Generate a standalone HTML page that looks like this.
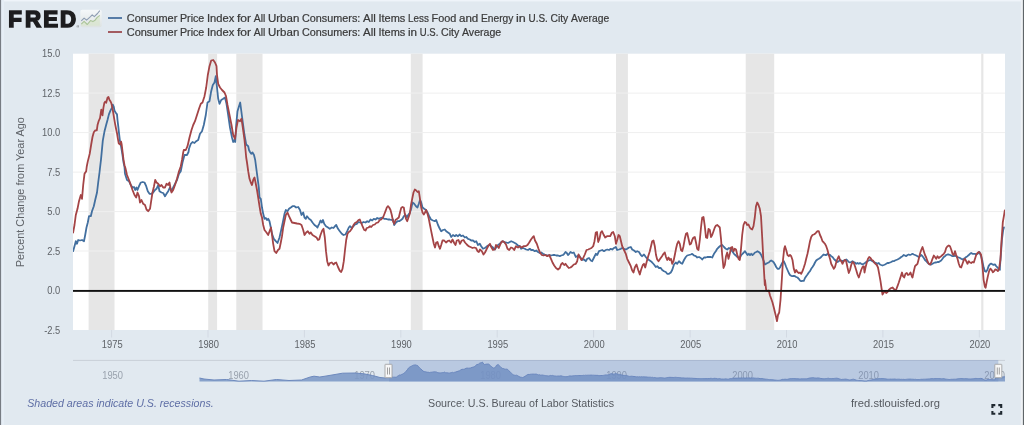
<!DOCTYPE html>
<html lang="en"><head><meta charset="utf-8"><title>FRED Graph</title>
<style>
html,body{margin:0;padding:0;}
body{width:1024px;height:425px;overflow:hidden;background:#e1e9f0;font-family:"Liberation Sans", sans-serif;}
svg{display:block;position:absolute;left:0;top:0;}
svg text{font-family:"Liberation Sans", sans-serif;}
</style></head><body>
<svg width="1024" height="425" viewBox="0 0 1024 425">
<defs>
<linearGradient id="ig" x1="0" y1="0" x2="0" y2="1"><stop offset="0" stop-color="#f5f8fa"/><stop offset="1" stop-color="#dde2e1"/></linearGradient>
<clipPath id="pc"><rect x="73.0" y="53.7" width="932.0" height="276.3"/></clipPath>
<clipPath id="nsel"><rect x="389.0" y="360.0" width="609.3" height="21.5"/></clipPath>
</defs>
<rect x="0" y="0" width="1024" height="425" fill="#e1e9f0"/>
<rect x="0" y="0" width="1024" height="1.4" fill="#eff4fa"/>
<rect x="1" y="0" width="3" height="425" fill="#e6eef6"/>
<rect x="0" y="0" width="1.1" height="425" fill="#777c83"/>
<rect x="1020.8" y="0" width="2.2" height="425" fill="#eef1f4"/>
<rect x="1022.9" y="0" width="1.1" height="425" fill="#5f6568"/>

<!-- logo -->
<text transform="scale(0.97 1)" x="8.56 25.67 44.64 61.75" y="26.9" font-size="23" font-weight="700" fill="#1d1d1f" stroke="#1d1d1f" stroke-width="1.6" stroke-linejoin="miter" text-rendering="geometricPrecision">FRED</text>
<text x="76.6" y="28" font-size="3.5" fill="#444">®</text>
<g>
<rect x="80.4" y="9.7" width="21.3" height="17.6" rx="2" fill="url(#ig)"/>
<path d="M81.3 24.1 L84.1 21.3 L87.3 24.5 L90.5 20.6 L92.9 21.6 L94.7 20.6 L97.2 17.4 L99.8 15.4 L99.8 25.8 L81.3 25.8 Z" fill="#d9e6cc" opacity="0.7"/>
<path d="M81.3 24.1 L84.1 21.3 L87.3 24.5 L90.5 20.6 L92.9 21.6 L94.7 20.6 L97.2 17.4 L99.8 15.4" fill="none" stroke="#abc499" stroke-width="1.1" stroke-linejoin="round"/>
<path d="M81.3 20.9 L84.1 18.1 L86.6 20.2 L90.5 16.7 L92.2 14.9 L94.3 16.7 L97.5 13.5 L99.8 10.6" fill="none" stroke="#8e9db2" stroke-width="1.1" stroke-linejoin="round"/>
</g>

<!-- legend -->
<rect x="108" y="17.1" width="14" height="1.8" fill="#49709f"/>
<rect x="108" y="31.1" width="14" height="1.8" fill="#9d4c50"/>
<g font-size="10" fill="#3a3a3a" stroke="#3a3a3a" stroke-width="0.2"><text y="22.0"><tspan x="126.8" textLength="50.5" lengthAdjust="spacingAndGlyphs">Consumer</tspan> <tspan x="180.0" textLength="24.3" lengthAdjust="spacingAndGlyphs">Price</tspan> <tspan x="207.0" textLength="27.3" lengthAdjust="spacingAndGlyphs">Index</tspan> <tspan x="237.0" textLength="14.1" lengthAdjust="spacingAndGlyphs">for</tspan> <tspan x="253.8" textLength="11.5" lengthAdjust="spacingAndGlyphs">All</tspan> <tspan x="268.0" textLength="31.3" lengthAdjust="spacingAndGlyphs">Urban</tspan> <tspan x="302.0" textLength="58.3" lengthAdjust="spacingAndGlyphs">Consumers:</tspan> <tspan x="363.0" textLength="12.8" lengthAdjust="spacingAndGlyphs">All</tspan> <tspan x="378.5" textLength="26.8" lengthAdjust="spacingAndGlyphs">Items</tspan> <tspan x="408.0" textLength="20.8" lengthAdjust="spacingAndGlyphs">Less</tspan> <tspan x="431.5" textLength="24.8" lengthAdjust="spacingAndGlyphs">Food</tspan> <tspan x="459.0" textLength="19.3" lengthAdjust="spacingAndGlyphs">and</tspan> <tspan x="481.0" textLength="32.3" lengthAdjust="spacingAndGlyphs">Energy</tspan> <tspan x="516.0" textLength="9.8" lengthAdjust="spacingAndGlyphs">in</tspan> <tspan x="528.5" textLength="19.3" lengthAdjust="spacingAndGlyphs">U.S.</tspan> <tspan x="550.5" textLength="17.8" lengthAdjust="spacingAndGlyphs">City</tspan> <tspan x="571.0" textLength="38.2" lengthAdjust="spacingAndGlyphs">Average</tspan></text><text y="35.7"><tspan x="126.8" textLength="50.5" lengthAdjust="spacingAndGlyphs">Consumer</tspan> <tspan x="180.0" textLength="24.3" lengthAdjust="spacingAndGlyphs">Price</tspan> <tspan x="207.0" textLength="27.3" lengthAdjust="spacingAndGlyphs">Index</tspan> <tspan x="237.0" textLength="14.1" lengthAdjust="spacingAndGlyphs">for</tspan> <tspan x="253.8" textLength="11.5" lengthAdjust="spacingAndGlyphs">All</tspan> <tspan x="268.0" textLength="31.3" lengthAdjust="spacingAndGlyphs">Urban</tspan> <tspan x="302.0" textLength="58.3" lengthAdjust="spacingAndGlyphs">Consumers:</tspan> <tspan x="363.0" textLength="12.8" lengthAdjust="spacingAndGlyphs">All</tspan> <tspan x="378.5" textLength="26.8" lengthAdjust="spacingAndGlyphs">Items</tspan> <tspan x="408.0" textLength="9.1" lengthAdjust="spacingAndGlyphs">in</tspan> <tspan x="419.8" textLength="18.5" lengthAdjust="spacingAndGlyphs">U.S.</tspan> <tspan x="441.0" textLength="18.3" lengthAdjust="spacingAndGlyphs">City</tspan> <tspan x="462.0" textLength="39.2" lengthAdjust="spacingAndGlyphs">Average</tspan></text></g>

<!-- plot -->
<rect x="73.0" y="53.7" width="932.0" height="276.3" fill="#ffffff"/>
<rect x="88.6" y="53.7" width="25.9" height="276.3" fill="#e6e6e6"/><rect x="208.2" y="53.7" width="8.9" height="276.3" fill="#e6e6e6"/><rect x="236.3" y="53.7" width="26.2" height="276.3" fill="#e6e6e6"/><rect x="410.8" y="53.7" width="11.8" height="276.3" fill="#e6e6e6"/><rect x="616.0" y="53.7" width="11.9" height="276.3" fill="#e6e6e6"/><rect x="745.7" y="53.7" width="28.5" height="276.3" fill="#e6e6e6"/><rect x="981.2" y="53.7" width="2.2" height="276.3" fill="#e6e6e6"/>
<rect x="73.0" y="92.6" width="932.0" height="1" fill="#efefef"/><rect x="73.0" y="132.1" width="932.0" height="1" fill="#efefef"/><rect x="73.0" y="171.6" width="932.0" height="1" fill="#efefef"/><rect x="73.0" y="211.1" width="932.0" height="1" fill="#efefef"/><rect x="73.0" y="250.5" width="932.0" height="1" fill="#efefef"/>
<g clip-path="url(#pc)" fill="none" stroke-linejoin="round" stroke-linecap="round">
<path d="M73.1 251.2 L74.5 246.2 L75.8 241.2 L77.0 243.8 L78.2 240.0 L80.0 240.5 L82.0 240.0 L84.0 241.2 L85.2 235.0 L86.5 227.5 L87.8 222.5 L89.0 216.2 L90.8 216.2 L92.0 211.2 L93.8 206.2 L95.2 200.0 L97.0 192.5 L98.2 182.5 L99.5 172.5 L100.0 168.0 L101.0 159.6 L101.9 150.2 L102.8 140.7 L103.8 135.1 L104.7 130.4 L106.2 124.7 L107.5 120.0 L108.9 114.4 L110.4 110.6 L111.9 107.8 L112.8 104.6 L113.8 106.8 L114.5 110.6 L115.6 112.5 L117.0 114.4 L117.5 120.0 L118.3 126.6 L119.0 133.2 L119.8 139.8 L120.7 144.5 L121.7 150.2 L122.6 155.8 L123.5 162.4 L124.5 167.1 L125.0 173.8 L127.0 180.0 L129.0 181.2 L130.8 185.0 L132.5 187.5 L134.0 187.0 L135.2 190.0 L136.5 187.5 L137.5 190.0 L139.0 186.2 L140.8 182.5 L142.8 182.0 L144.5 182.5 L146.2 186.2 L147.8 191.2 L149.5 193.8 L151.5 193.8 L153.2 192.5 L155.0 190.0 L156.5 188.8 L158.2 185.0 L159.5 191.2 L161.5 192.5 L163.2 193.0 L165.0 196.2 L166.5 193.8 L168.2 191.2 L170.0 187.5 L171.5 191.2 L173.2 187.5 L175.0 183.8 L177.0 180.0 L179.0 173.8 L180.8 171.2 L182.5 162.5 L184.5 155.0 L187.0 155.0 L188.5 152.0 L189.0 148.8 L190.8 143.8 L192.5 142.0 L194.5 143.0 L196.2 141.2 L198.2 140.0 L200.0 133.8 L202.0 131.2 L203.8 125.0 L205.8 115.0 L207.5 102.5 L209.5 101.2 L211.2 91.2 L212.8 85.0 L214.5 82.5 L215.8 76.2 L217.0 87.5 L218.2 98.8 L219.5 103.8 L221.2 100.0 L223.2 98.8 L225.0 97.5 L226.5 103.8 L228.2 115.0 L230.0 127.5 L232.0 137.5 L233.2 142.0 L234.5 140.0 L235.2 142.0 L236.2 125.0 L237.5 111.2 L239.0 106.2 L240.2 102.5 L241.5 112.5 L242.8 122.5 L244.5 135.0 L246.2 144.5 L248.2 146.2 L249.0 150.0 L250.0 152.0 L251.2 153.8 L252.5 152.5 L254.0 155.0 L255.2 160.0 L256.5 170.0 L257.5 177.5 L258.8 187.5 L259.5 197.5 L260.8 198.8 L262.0 207.5 L263.2 213.8 L264.5 218.8 L265.8 218.0 L267.0 220.0 L268.2 218.8 L269.5 221.2 L270.8 227.5 L272.0 233.8 L273.8 238.8 L275.8 241.2 L277.5 243.0 L279.5 237.5 L281.2 230.0 L282.8 222.5 L284.5 213.8 L285.8 210.0 L287.5 211.2 L289.0 208.8 L290.8 207.5 L292.5 206.2 L294.5 206.2 L296.2 207.5 L298.2 207.0 L300.0 210.0 L301.5 215.0 L303.2 212.5 L304.5 217.5 L305.8 218.8 L307.0 216.2 L309.0 218.8 L310.8 220.0 L312.5 222.5 L314.5 225.0 L316.2 226.2 L317.5 227.5 L318.0 226.2 L319.2 223.8 L320.5 220.5 L321.8 222.5 L323.0 220.0 L324.2 223.8 L326.0 226.2 L328.0 227.5 L329.8 228.8 L331.8 227.5 L333.5 228.0 L335.0 226.2 L336.2 225.0 L338.0 228.8 L339.8 231.2 L341.8 233.8 L343.5 235.0 L345.5 234.5 L347.2 231.2 L348.8 227.5 L350.0 226.2 L351.8 228.0 L353.5 226.2 L355.0 224.5 L356.8 223.8 L358.5 222.0 L360.0 222.5 L361.8 223.0 L363.5 222.0 L365.5 222.5 L367.2 221.2 L368.8 222.0 L370.5 219.5 L372.2 220.5 L373.8 218.8 L375.5 219.5 L377.2 218.0 L378.8 218.8 L380.5 218.0 L382.2 217.5 L384.2 218.8 L386.0 218.8 L388.0 219.5 L389.8 219.5 L391.2 220.0 L393.0 219.5 L394.2 225.0 L396.0 222.5 L397.5 221.2 L399.2 221.2 L401.0 220.0 L402.5 218.8 L403.8 216.2 L405.5 215.0 L406.8 217.5 L408.5 214.5 L410.0 212.5 L411.2 208.8 L412.5 202.5 L414.2 203.8 L416.0 206.2 L417.5 207.5 L418.8 203.8 L420.0 200.0 L421.2 202.5 L422.5 207.5 L424.2 208.8 L426.0 210.0 L427.5 212.5 L429.2 216.2 L431.0 219.5 L433.0 220.5 L434.8 221.2 L436.2 220.0 L438.0 225.0 L439.8 228.8 L441.2 231.2 L443.0 230.0 L444.8 229.5 L446.2 231.2 L448.0 232.5 L449.8 233.8 L451.2 237.0 L453.0 235.0 L454.8 236.2 L456.2 235.0 L458.0 236.2 L459.8 234.5 L461.2 236.2 L463.0 235.5 L464.8 237.5 L466.2 237.0 L468.0 238.8 L469.8 239.5 L471.2 240.5 L473.0 240.5 L474.8 242.0 L476.2 241.2 L478.0 245.0 L479.8 243.8 L481.2 246.2 L483.0 248.8 L484.8 248.0 L486.2 247.0 L488.0 245.5 L489.8 245.0 L491.2 246.2 L493.0 247.5 L494.8 249.5 L496.2 247.5 L498.0 245.0 L499.8 243.8 L501.2 242.0 L503.0 241.2 L504.8 242.5 L506.2 242.5 L508.0 243.0 L509.8 242.0 L511.2 241.2 L513.0 242.0 L514.8 243.0 L516.2 243.8 L518.0 245.5 L519.8 246.2 L521.2 248.8 L523.0 248.0 L524.8 248.8 L526.2 249.5 L528.0 250.0 L529.8 248.8 L531.2 250.0 L533.0 250.0 L534.8 251.2 L536.2 250.5 L538.0 252.0 L539.8 253.0 L541.2 252.5 L543.0 253.8 L544.8 254.5 L546.2 255.0 L548.0 255.5 L549.8 255.0 L551.2 255.5 L553.0 255.0 L554.8 255.0 L556.2 255.5 L558.0 255.5 L559.8 256.2 L561.2 255.5 L563.0 255.0 L564.2 253.8 L565.5 252.0 L566.8 253.0 L568.0 255.0 L569.2 253.8 L570.5 252.0 L572.2 253.0 L573.8 252.5 L575.8 257.0 L577.2 256.2 L579.0 255.5 L580.8 258.0 L582.2 260.0 L584.0 259.5 L585.8 261.2 L587.2 258.8 L589.0 258.0 L590.8 260.5 L592.2 261.2 L594.0 257.5 L595.8 253.8 L597.2 255.0 L599.0 251.2 L600.8 250.5 L602.2 250.0 L604.0 251.2 L605.8 250.0 L607.2 249.5 L609.0 250.0 L610.8 248.8 L612.2 249.5 L614.0 248.0 L615.8 247.0 L617.2 250.0 L619.0 249.5 L620.8 248.8 L622.2 248.0 L624.0 248.8 L625.8 249.5 L627.2 248.8 L629.0 247.5 L630.8 247.0 L632.2 249.5 L634.0 250.5 L635.8 252.0 L637.2 251.2 L639.0 252.0 L640.8 255.0 L642.2 256.2 L644.0 254.5 L645.8 257.0 L647.2 258.8 L649.0 260.0 L650.8 261.2 L652.2 262.5 L654.0 264.5 L655.8 267.0 L657.2 266.2 L659.0 268.0 L660.8 268.0 L662.2 270.0 L664.0 271.2 L665.8 272.0 L667.2 273.8 L669.0 273.8 L670.8 272.5 L672.2 270.0 L674.0 264.5 L675.8 262.5 L677.2 263.8 L679.0 261.2 L680.8 263.0 L682.2 263.8 L684.0 260.0 L685.8 257.0 L687.2 255.5 L689.0 255.0 L690.8 254.5 L692.2 253.8 L694.0 255.5 L695.8 256.2 L697.2 257.5 L699.0 257.0 L700.8 258.0 L702.2 259.5 L704.0 257.5 L705.8 257.5 L707.2 257.0 L709.0 257.0 L710.8 257.0 L712.2 257.5 L714.0 253.8 L715.8 251.2 L717.2 248.8 L719.0 247.0 L720.8 245.5 L722.2 245.0 L724.0 247.0 L725.8 248.8 L727.2 249.5 L729.0 248.0 L730.8 248.8 L732.2 251.2 L734.0 253.8 L735.8 255.5 L737.2 257.0 L739.0 257.5 L740.0 257.5 L741.2 255.0 L742.5 253.8 L743.8 252.5 L745.0 251.2 L746.2 253.0 L747.5 255.0 L748.8 253.8 L750.0 255.0 L751.2 253.8 L752.5 255.0 L753.8 253.8 L755.0 252.5 L756.2 252.0 L757.5 251.2 L758.8 252.0 L760.0 253.0 L761.2 255.0 L762.5 258.0 L763.8 261.2 L765.0 264.5 L766.2 263.8 L767.5 263.0 L768.8 262.5 L770.0 261.2 L771.2 260.5 L772.5 261.2 L773.8 262.5 L775.0 264.5 L776.2 267.0 L777.5 268.8 L778.8 268.8 L780.0 267.5 L781.2 265.0 L782.5 262.5 L783.8 261.2 L785.0 263.8 L786.2 267.0 L787.5 270.0 L788.8 273.0 L790.0 275.0 L791.2 275.8 L792.5 276.2 L793.8 275.8 L795.0 276.2 L796.2 277.0 L797.5 277.5 L798.8 278.8 L800.0 280.5 L801.2 281.2 L802.5 280.8 L803.8 280.8 L805.0 278.0 L806.2 276.2 L807.5 274.5 L808.8 272.5 L810.0 271.2 L811.2 268.8 L812.5 267.0 L813.8 265.0 L815.0 262.5 L816.2 260.5 L817.5 259.5 L818.8 258.8 L820.0 258.0 L821.2 257.0 L822.5 255.5 L823.8 254.5 L825.0 255.0 L826.2 255.0 L827.5 253.8 L828.8 255.0 L830.0 255.0 L831.2 256.2 L832.5 257.0 L833.8 258.8 L835.0 260.0 L836.2 261.2 L837.5 262.0 L838.8 261.2 L840.0 260.0 L841.2 260.5 L842.5 261.2 L843.8 260.5 L845.0 260.0 L846.2 259.5 L847.5 260.5 L848.8 262.0 L850.0 262.5 L851.2 262.0 L852.5 261.2 L853.8 262.0 L855.0 262.5 L856.2 263.8 L857.5 263.0 L858.8 263.8 L860.0 263.0 L861.2 263.8 L862.5 264.5 L863.8 263.8 L865.0 263.0 L866.2 262.0 L867.5 261.2 L868.8 260.5 L870.0 260.0 L871.2 260.5 L872.5 261.2 L873.8 262.0 L875.0 262.5 L876.2 263.0 L877.5 263.8 L878.8 263.0 L880.0 264.5 L881.2 265.0 L882.5 265.5 L883.8 265.0 L885.0 264.5 L886.2 263.8 L887.5 263.0 L888.8 263.0 L890.0 262.5 L891.2 262.0 L892.5 261.2 L893.8 261.2 L895.0 260.5 L896.2 260.0 L897.5 259.5 L898.8 258.8 L900.0 258.0 L901.2 257.0 L902.5 256.2 L903.8 255.0 L905.0 255.5 L906.2 256.2 L907.5 255.0 L908.8 254.5 L910.0 255.0 L911.2 254.5 L912.5 253.8 L913.8 254.5 L915.0 255.0 L916.2 255.5 L917.5 256.2 L918.8 257.0 L920.0 256.2 L921.2 255.0 L922.5 256.2 L923.8 258.0 L925.0 260.0 L926.2 261.2 L927.5 262.5 L928.8 263.8 L930.0 264.5 L931.2 264.5 L932.5 263.8 L933.8 263.0 L935.0 262.5 L936.2 262.5 L937.5 262.0 L938.8 262.0 L940.0 261.2 L941.2 260.5 L942.5 258.8 L943.8 257.0 L945.0 256.2 L946.2 255.0 L947.5 254.5 L948.8 254.5 L950.0 255.0 L951.2 255.5 L952.5 256.2 L953.8 256.2 L955.0 255.5 L956.2 256.2 L957.5 257.0 L958.8 257.5 L960.0 258.0 L961.2 258.8 L962.5 259.5 L963.8 258.8 L965.0 258.0 L966.2 257.0 L967.5 256.2 L968.8 255.0 L970.0 253.8 L971.2 253.0 L972.5 253.8 L973.8 253.8 L975.0 253.8 L976.2 254.5 L977.5 253.8 L978.8 252.5 L979.5 252.0 L979.9 253.6 L981.1 256.1 L982.4 261.1 L983.6 267.3 L984.9 271.1 L986.1 271.8 L987.4 269.8 L988.6 266.1 L989.9 264.3 L991.1 263.6 L992.4 264.3 L993.6 264.8 L994.9 264.3 L996.1 266.1 L997.4 267.3 L998.6 268.6 L999.9 269.8 L999.9 267.3 L1000.7 257.3 L1001.9 239.9 L1003.2 229.9 L1003.9 227.4" stroke="#426f9f" stroke-width="1.8"/>
<path d="M73.1 232.5 L74.5 225.0 L75.8 215.0 L77.5 208.8 L79.0 201.2 L80.8 195.0 L82.0 198.8 L83.2 185.0 L84.5 173.8 L86.2 171.2 L86.8 166.2 L87.8 161.4 L89.7 153.9 L91.2 144.5 L92.5 137.0 L93.8 132.3 L95.3 130.4 L96.8 130.4 L97.6 124.7 L98.7 121.0 L100.0 118.1 L101.3 109.7 L102.5 115.3 L103.4 107.8 L104.3 103.1 L105.3 101.6 L106.2 102.7 L107.5 97.8 L108.5 97.0 L109.4 99.7 L110.4 101.2 L111.3 103.1 L112.2 106.8 L113.2 112.5 L114.1 118.1 L115.1 123.8 L116.0 128.5 L117.0 133.2 L117.9 138.8 L118.8 143.6 L120.2 144.5 L121.1 141.7 L121.7 144.5 L122.6 152.0 L123.5 159.6 L124.5 165.2 L125.4 168.0 L127.0 175.0 L129.0 180.0 L130.8 185.0 L132.5 190.0 L134.5 195.0 L136.2 197.5 L137.5 192.5 L139.0 196.2 L140.0 202.5 L141.5 200.0 L143.2 203.8 L145.0 205.0 L146.5 209.5 L148.2 211.2 L150.0 208.8 L151.5 198.8 L152.5 192.5 L154.0 186.2 L155.2 180.0 L156.5 182.5 L158.2 183.8 L160.0 186.2 L161.5 185.0 L163.2 187.5 L165.0 187.5 L166.5 183.8 L168.2 185.0 L169.5 182.5 L170.8 190.0 L171.5 192.5 L173.2 190.0 L175.0 185.0 L177.0 178.8 L179.0 171.2 L180.8 166.2 L182.0 160.0 L183.2 152.5 L183.8 150.0 L185.8 150.0 L187.5 146.2 L189.5 137.5 L191.5 130.0 L193.2 125.0 L195.0 121.2 L197.0 115.0 L199.0 108.8 L200.8 103.8 L202.5 102.5 L204.5 96.2 L206.2 87.5 L207.8 75.0 L209.5 66.2 L211.2 60.5 L213.2 60.0 L215.0 62.5 L216.5 66.2 L217.0 75.0 L218.2 83.8 L220.0 87.5 L222.0 90.0 L224.5 92.5 L226.0 96.2 L227.5 105.0 L229.5 115.0 L231.5 125.0 L233.2 135.0 L235.0 138.8 L236.5 127.5 L238.0 120.0 L240.0 121.2 L241.5 118.8 L242.8 127.5 L244.5 140.0 L245.5 150.0 L246.2 157.5 L247.0 162.5 L248.2 171.2 L249.5 178.8 L250.8 182.5 L252.0 185.0 L253.2 180.0 L254.5 177.5 L255.8 183.8 L257.0 190.0 L258.2 197.5 L259.5 206.2 L260.8 213.8 L262.0 217.5 L263.2 225.0 L264.5 230.0 L266.5 232.5 L268.2 235.0 L270.0 230.0 L271.0 227.5 L272.0 235.0 L273.2 243.8 L274.5 251.2 L276.2 253.0 L278.0 250.0 L279.5 248.8 L280.8 242.5 L282.0 236.2 L283.2 227.5 L284.5 221.2 L285.8 215.0 L287.5 212.5 L289.0 216.2 L290.8 220.0 L292.0 222.5 L294.5 223.0 L297.0 223.5 L299.5 223.8 L301.5 225.0 L303.2 230.0 L304.5 235.0 L306.2 232.5 L307.8 231.2 L309.5 233.8 L310.8 232.5 L312.5 235.0 L314.5 236.2 L316.5 237.5 L318.0 240.0 L319.2 239.5 L320.5 235.0 L322.2 230.5 L323.5 228.8 L324.8 237.5 L326.0 251.2 L327.2 261.2 L328.5 265.5 L330.0 263.0 L331.8 262.5 L333.5 264.5 L335.0 263.0 L336.2 262.5 L338.0 267.0 L339.8 270.8 L341.2 272.0 L342.5 268.8 L343.8 261.2 L345.0 250.0 L346.2 240.0 L347.5 233.8 L348.8 232.0 L350.0 231.2 L351.8 228.8 L353.5 225.0 L355.0 223.0 L356.8 222.0 L358.5 220.0 L359.8 219.5 L361.0 222.5 L362.5 226.2 L364.2 230.0 L365.5 230.5 L366.8 228.0 L368.5 227.5 L370.0 226.2 L371.2 227.0 L373.0 225.0 L374.8 224.5 L376.2 223.0 L378.0 222.5 L379.8 220.0 L381.2 219.5 L383.0 217.5 L384.2 214.5 L385.5 211.2 L386.8 207.5 L388.0 206.2 L389.2 207.5 L390.5 210.0 L391.8 215.0 L393.0 221.2 L394.2 223.8 L395.5 220.0 L397.2 218.8 L398.8 217.5 L400.0 212.5 L401.2 208.0 L402.5 207.0 L403.8 207.5 L404.8 213.8 L406.0 218.8 L407.2 221.2 L408.5 217.5 L409.8 213.8 L411.0 205.0 L412.2 198.8 L413.5 192.5 L414.8 189.5 L416.2 190.5 L417.5 192.0 L418.8 191.2 L420.0 198.8 L421.2 207.5 L422.5 212.5 L423.8 214.5 L425.0 212.5 L426.2 210.0 L427.5 213.8 L428.8 218.8 L430.0 225.0 L431.2 231.2 L432.5 237.5 L433.8 243.8 L435.0 247.5 L436.2 242.5 L437.5 242.0 L438.8 246.2 L440.0 248.8 L441.2 245.0 L442.5 240.5 L444.2 240.5 L446.0 242.5 L447.5 241.2 L449.2 240.5 L451.0 242.5 L452.5 239.5 L454.2 243.0 L455.5 245.0 L456.8 240.5 L458.5 240.0 L460.0 243.8 L461.8 240.5 L463.5 240.0 L465.0 242.5 L466.8 244.5 L468.5 246.2 L470.5 247.0 L472.5 248.0 L474.2 247.5 L476.0 248.0 L477.5 251.2 L478.8 252.0 L480.0 249.5 L481.8 251.2 L483.5 254.5 L485.0 252.5 L486.8 248.8 L488.5 245.5 L490.0 243.8 L491.2 247.0 L493.0 250.0 L494.8 249.5 L496.0 245.0 L497.5 246.2 L498.8 248.0 L500.5 243.8 L502.2 241.2 L504.2 242.0 L506.0 244.5 L507.5 248.8 L509.2 250.0 L511.0 247.5 L512.5 248.0 L514.2 250.0 L516.0 246.2 L518.0 247.5 L519.8 246.2 L521.8 247.5 L523.5 246.2 L525.5 246.2 L527.5 245.0 L529.2 242.5 L531.0 239.5 L532.5 237.5 L533.8 236.2 L535.0 240.5 L536.8 243.8 L538.5 248.8 L540.0 252.5 L541.8 255.0 L543.5 255.5 L545.5 255.0 L547.2 256.2 L549.2 255.0 L551.0 258.8 L552.5 262.5 L554.2 265.5 L556.0 268.0 L558.0 269.5 L559.8 268.0 L561.0 264.5 L562.5 263.0 L564.2 265.0 L565.5 263.8 L567.2 266.2 L568.8 268.0 L570.5 267.5 L572.2 266.2 L573.8 264.5 L575.8 263.8 L577.2 261.2 L578.5 254.5 L579.8 257.0 L581.5 260.0 L583.2 258.0 L584.8 254.5 L586.5 250.0 L588.2 249.5 L589.8 248.8 L591.5 248.0 L593.2 246.2 L594.5 241.2 L595.8 232.5 L597.0 232.0 L598.2 242.0 L599.5 238.8 L600.8 232.5 L602.0 231.2 L603.5 234.5 L605.2 237.5 L607.0 236.2 L608.5 236.2 L610.2 236.2 L612.0 232.5 L613.2 232.0 L614.8 236.2 L616.0 243.8 L617.2 240.0 L618.5 235.0 L619.8 236.2 L621.0 241.2 L622.2 246.2 L624.0 250.0 L625.8 253.8 L627.2 258.8 L629.0 262.5 L630.8 266.2 L632.2 270.5 L633.5 272.5 L634.8 267.5 L636.5 264.5 L638.2 270.0 L639.8 274.5 L641.0 270.0 L642.8 265.0 L644.0 263.8 L645.2 267.5 L646.5 262.5 L648.2 256.2 L649.8 251.2 L651.0 246.2 L652.2 241.2 L653.5 240.5 L654.8 246.2 L656.0 255.0 L657.2 259.5 L658.5 261.2 L660.2 258.8 L662.0 256.2 L663.5 253.8 L664.8 252.5 L666.0 257.0 L667.2 260.0 L668.5 257.5 L669.8 260.0 L671.0 258.8 L672.2 263.8 L673.5 261.2 L674.8 255.0 L676.0 248.8 L677.2 243.8 L678.5 241.2 L679.8 243.8 L681.0 250.0 L682.2 251.2 L683.5 246.2 L684.8 238.8 L686.0 233.8 L687.2 233.0 L688.5 238.8 L689.8 244.5 L691.0 243.8 L692.2 240.0 L693.5 237.5 L694.8 237.0 L696.0 242.5 L697.2 248.8 L698.5 250.0 L699.8 240.0 L701.0 227.5 L702.2 217.5 L703.5 217.0 L704.8 226.2 L706.0 237.5 L707.2 238.0 L708.5 228.8 L709.8 230.0 L711.0 237.0 L712.2 235.0 L713.5 231.2 L714.8 227.5 L716.0 225.5 L717.2 225.0 L718.5 226.2 L719.8 227.5 L721.0 238.8 L722.2 255.0 L723.5 268.0 L724.8 265.0 L726.0 256.2 L727.2 252.5 L728.5 258.8 L729.8 253.8 L731.0 247.5 L732.2 247.0 L733.5 251.2 L734.8 248.8 L736.0 249.5 L737.2 254.5 L738.5 258.8 L739.8 260.0 L741.0 248.8 L742.2 235.0 L743.5 225.0 L744.8 222.0 L746.0 222.5 L747.2 225.0 L748.5 224.5 L749.8 227.5 L751.0 228.8 L752.2 229.5 L753.5 226.2 L754.8 217.5 L756.0 206.2 L757.2 202.5 L758.5 205.0 L759.8 208.8 L761.0 216.2 L762.2 237.5 L763.5 262.5 L764.8 285.0 L765.0 280.0 L766.2 290.0 L767.5 291.2 L768.8 290.5 L770.0 295.5 L771.2 298.8 L772.5 302.5 L773.8 307.5 L775.0 312.5 L776.2 317.5 L777.0 321.2 L778.0 315.0 L779.2 312.5 L780.5 300.0 L781.8 280.0 L783.0 260.0 L784.2 248.8 L785.0 246.2 L786.2 250.0 L787.5 255.0 L788.8 256.2 L790.0 255.0 L791.2 256.2 L792.5 260.0 L793.8 268.8 L795.0 272.5 L796.2 270.0 L797.5 272.0 L798.8 273.0 L800.0 272.5 L801.2 273.8 L802.5 271.2 L803.8 267.5 L805.0 263.8 L806.2 258.8 L807.5 253.8 L808.8 247.5 L810.0 241.2 L811.2 237.0 L812.5 235.0 L813.8 234.5 L815.0 233.8 L816.2 232.5 L817.5 231.2 L818.8 231.2 L820.0 235.0 L821.2 237.5 L822.5 241.2 L823.8 242.5 L825.0 243.8 L826.2 246.2 L827.5 250.0 L828.8 255.0 L830.0 258.8 L831.2 263.8 L832.5 266.2 L833.8 268.8 L835.0 267.0 L836.2 262.5 L837.5 258.8 L838.8 256.2 L840.0 260.0 L841.2 261.2 L842.5 263.8 L843.8 261.2 L845.0 260.0 L846.2 261.2 L847.5 267.5 L848.8 273.0 L850.0 270.0 L851.2 265.0 L852.5 262.0 L853.8 263.0 L855.0 266.2 L856.2 270.0 L857.5 274.5 L858.8 277.5 L860.0 273.8 L861.2 270.0 L862.5 267.0 L863.8 266.2 L864.5 272.5 L865.5 267.5 L866.8 262.5 L868.0 258.8 L869.2 257.0 L870.5 258.0 L871.8 260.0 L873.0 260.5 L874.2 262.5 L875.5 263.8 L876.8 265.0 L878.0 267.5 L879.2 273.8 L880.5 281.2 L881.8 290.0 L882.5 294.5 L883.8 292.5 L885.0 291.2 L886.2 293.0 L887.5 292.0 L888.8 290.0 L890.0 288.8 L891.2 288.0 L892.5 287.5 L893.8 288.8 L895.0 290.5 L896.2 289.5 L897.5 286.2 L898.8 282.5 L900.0 278.8 L901.2 275.0 L902.0 272.5 L903.0 276.2 L904.2 277.5 L905.5 273.8 L906.8 273.0 L908.0 275.0 L909.2 274.5 L910.5 272.5 L911.8 276.2 L912.5 277.5 L913.8 271.2 L915.0 266.2 L916.2 265.0 L917.5 263.8 L918.8 258.8 L920.0 253.8 L921.2 250.0 L922.5 247.0 L923.8 251.2 L925.0 255.0 L926.2 257.5 L927.5 261.2 L928.8 263.8 L930.0 264.5 L931.2 262.5 L932.5 258.8 L933.8 255.5 L935.0 257.0 L936.2 258.8 L937.5 256.2 L938.8 258.0 L940.0 257.0 L941.2 256.2 L942.5 255.0 L943.8 253.8 L945.0 252.0 L946.2 248.0 L947.5 246.2 L948.8 245.5 L950.0 246.2 L951.2 249.5 L952.5 253.8 L953.8 255.0 L955.0 251.2 L956.2 255.0 L957.5 258.8 L958.8 263.8 L960.0 267.0 L961.2 267.5 L962.5 263.8 L963.8 260.0 L965.0 258.8 L966.2 261.2 L967.5 263.8 L968.8 261.2 L970.0 262.5 L971.2 263.0 L972.5 262.0 L973.8 262.5 L975.0 258.8 L976.2 255.0 L977.5 253.0 L978.8 252.0 L980.0 253.0 L980.0 252.9 L981.1 254.8 L982.4 264.8 L983.6 279.8 L984.9 286.8 L985.6 287.8 L986.6 282.3 L987.9 276.1 L989.1 271.1 L990.4 268.6 L991.6 269.8 L992.9 272.3 L994.1 271.1 L995.4 269.3 L996.6 269.8 L997.9 271.1 L999.1 268.6 L1000.4 259.8 L1001.6 239.9 L1002.8 222.4 L1004.1 214.9 L1004.8 210.5" stroke="#a44446" stroke-width="1.8"/>
</g>
<rect x="73.0" y="289.95" width="932.0" height="1.9" fill="#111111"/>
<rect x="111.1" y="330.0" width="1" height="7.5" fill="#d3dae3"/><rect x="207.5" y="330.0" width="1" height="7.5" fill="#d3dae3"/><rect x="303.9" y="330.0" width="1" height="7.5" fill="#d3dae3"/><rect x="400.3" y="330.0" width="1" height="7.5" fill="#d3dae3"/><rect x="496.7" y="330.0" width="1" height="7.5" fill="#d3dae3"/><rect x="593.1" y="330.0" width="1" height="7.5" fill="#d3dae3"/><rect x="689.6" y="330.0" width="1" height="7.5" fill="#d3dae3"/><rect x="786.0" y="330.0" width="1" height="7.5" fill="#d3dae3"/><rect x="882.4" y="330.0" width="1" height="7.5" fill="#d3dae3"/><rect x="978.8" y="330.0" width="1" height="7.5" fill="#d3dae3"/>
<g font-size="10.1" fill="#5f6368"><text x="42.0" y="57.3" textLength="18.2" lengthAdjust="spacingAndGlyphs">15.0</text><text x="42.0" y="96.7" textLength="18.2" lengthAdjust="spacingAndGlyphs">12.5</text><text x="42.0" y="136.2" textLength="18.2" lengthAdjust="spacingAndGlyphs">10.0</text><text x="47.2" y="175.7" textLength="13.0" lengthAdjust="spacingAndGlyphs">7.5</text><text x="47.2" y="215.2" textLength="13.0" lengthAdjust="spacingAndGlyphs">5.0</text><text x="47.2" y="254.6" textLength="13.0" lengthAdjust="spacingAndGlyphs">2.5</text><text x="47.2" y="294.1" textLength="13.0" lengthAdjust="spacingAndGlyphs">0.0</text><text x="44.2" y="333.6" textLength="16.0" lengthAdjust="spacingAndGlyphs">-2.5</text><text x="101.8" y="348" textLength="20.8" lengthAdjust="spacingAndGlyphs">1975</text><text x="198.2" y="348" textLength="20.8" lengthAdjust="spacingAndGlyphs">1980</text><text x="294.6" y="348" textLength="20.8" lengthAdjust="spacingAndGlyphs">1985</text><text x="391.0" y="348" textLength="20.8" lengthAdjust="spacingAndGlyphs">1990</text><text x="487.4" y="348" textLength="20.8" lengthAdjust="spacingAndGlyphs">1995</text><text x="583.8" y="348" textLength="20.8" lengthAdjust="spacingAndGlyphs">2000</text><text x="680.3" y="348" textLength="20.8" lengthAdjust="spacingAndGlyphs">2005</text><text x="776.7" y="348" textLength="20.8" lengthAdjust="spacingAndGlyphs">2010</text><text x="873.1" y="348" textLength="20.8" lengthAdjust="spacingAndGlyphs">2015</text><text x="969.5" y="348" textLength="20.8" lengthAdjust="spacingAndGlyphs">2020</text></g>
<text transform="translate(23.5 267.2) rotate(-90)" font-size="11.2" fill="#5f6368" textLength="150" lengthAdjust="spacingAndGlyphs">Percent Change from Year Ago</text>

<!-- navigator -->
<rect x="73.0" y="359.9" width="932.0" height="1" fill="#c9d0d8"/>
<g font-size="10.1" fill="#99a2ad"><text x="102.2" y="378.6" textLength="20.8" lengthAdjust="spacingAndGlyphs">1950</text><text x="228.2" y="378.6" textLength="20.8" lengthAdjust="spacingAndGlyphs">1960</text><text x="354.2" y="378.6" textLength="20.8" lengthAdjust="spacingAndGlyphs">1970</text><text x="480.2" y="378.6" textLength="20.8" lengthAdjust="spacingAndGlyphs">1980</text><text x="606.2" y="378.6" textLength="20.8" lengthAdjust="spacingAndGlyphs">1990</text><text x="732.2" y="378.6" textLength="20.8" lengthAdjust="spacingAndGlyphs">2000</text><text x="858.2" y="378.6" textLength="20.8" lengthAdjust="spacingAndGlyphs">2010</text><text x="984.2" y="378.6" textLength="20.8" lengthAdjust="spacingAndGlyphs">2020</text></g>
<path d="M199.5 378.0 L204.0 379.0 L214.0 380.0 L226.5 379.5 L239.0 381.2 L251.5 380.5 L264.0 381.2 L276.5 379.5 L289.0 380.5 L301.5 380.0 L310.2 377.0 L314.0 376.2 L319.8 377.0 L325.0 376.2 L335.0 374.5 L342.5 373.2 L355.0 373.0 L363.8 373.8 L372.5 375.5 L380.0 377.5 L385.0 378.0 L389.0 377.0 L390.0 377.8 L390.8 377.3 L391.6 377.5 L392.4 377.2 L393.6 377.2 L394.9 377.2 L396.2 377.3 L397.0 376.7 L397.8 376.0 L398.6 375.6 L399.5 375.0 L400.6 375.0 L401.4 374.5 L402.6 374.1 L403.5 373.5 L404.7 372.8 L405.5 371.9 L406.3 371.0 L407.3 369.8 L408.5 368.0 L409.7 367.1 L410.7 366.5 L411.6 366.1 L412.4 365.6 L413.4 365.2 L414.4 365.0 L415.6 364.9 L416.9 365.4 L417.7 365.6 L418.6 366.7 L419.6 367.9 L420.8 368.9 L422.0 370.0 L423.0 371.1 L424.3 371.6 L425.6 371.8 L426.7 372.1 L427.9 372.3 L428.9 372.3 L429.7 372.6 L430.5 372.3 L432.1 372.2 L433.3 371.9 L434.6 371.8 L435.7 371.9 L436.9 372.2 L437.8 372.7 L439.0 372.9 L440.3 372.9 L441.4 372.8 L442.6 372.6 L443.6 372.5 L444.7 372.1 L445.5 372.7 L446.8 372.8 L448.0 372.9 L449.1 373.2 L450.1 372.9 L451.2 372.7 L452.4 372.3 L453.4 372.7 L454.5 372.3 L455.6 372.0 L457.0 371.6 L458.3 371.1 L459.4 370.8 L460.6 370.0 L461.9 369.3 L463.5 369.3 L464.5 369.1 L465.9 368.3 L467.1 368.1 L468.4 368.2 L469.5 368.1 L470.8 367.9 L472.0 367.4 L473.3 367.1 L474.4 366.6 L475.7 365.6 L476.9 364.5 L478.2 364.4 L479.3 363.4 L480.3 362.9 L481.5 362.6 L482.3 362.0 L483.1 363.1 L483.9 364.1 L484.7 364.6 L485.9 364.2 L487.2 364.1 L488.3 364.0 L489.3 364.6 L490.4 365.6 L491.6 366.8 L492.9 367.7 L493.7 368.1 L494.5 367.9 L495.7 366.6 L496.5 365.3 L497.5 364.8 L498.3 364.5 L499.1 365.4 L499.9 366.3 L501.1 367.5 L502.2 368.4 L503.5 368.5 L504.7 369.1 L505.5 369.2 L506.3 369.1 L507.3 369.3 L508.1 369.8 L508.9 370.7 L510.4 372.3 L511.7 373.4 L512.5 374.2 L513.3 374.8 L514.1 375.2 L514.9 375.2 L515.8 375.4 L516.6 375.2 L517.4 375.5 L518.2 376.0 L519.0 376.6 L520.2 377.1 L521.5 377.3 L522.6 377.5 L523.9 377.0 L525.1 376.3 L526.1 375.6 L527.2 374.8 L528.0 374.4 L529.2 374.5 L530.1 374.3 L531.3 374.2 L532.4 374.1 L533.7 374.1 L534.9 374.2 L536.2 374.1 L537.3 374.4 L538.3 374.9 L539.5 374.7 L540.3 375.1 L541.1 375.2 L541.9 375.0 L543.2 375.2 L544.4 375.4 L545.5 375.6 L546.8 375.8 L547.9 375.9 L548.8 376.0 L549.9 375.7 L550.7 375.4 L551.5 375.6 L552.4 375.4 L553.2 375.7 L554.3 375.9 L555.6 376.0 L556.8 376.2 L558.1 376.0 L559.2 376.1 L560.2 375.9 L561.0 375.8 L562.2 376.2 L563.3 376.4 L564.6 376.6 L565.8 376.7 L567.1 376.7 L568.2 376.4 L569.2 376.0 L570.0 375.9 L571.1 376.1 L572.3 375.9 L573.3 375.8 L574.4 375.7 L575.6 375.5 L576.5 375.6 L577.7 375.6 L578.8 375.5 L580.1 375.6 L581.3 375.5 L582.3 375.5 L583.4 375.3 L584.5 375.4 L585.5 375.2 L586.7 375.3 L587.8 375.2 L588.8 375.2 L589.9 375.2 L591.1 375.1 L592.4 375.2 L593.5 375.2 L594.8 375.3 L596.0 375.3 L597.0 375.4 L598.1 375.3 L598.9 375.8 L600.1 375.6 L601.0 375.5 L602.2 375.5 L603.3 375.4 L604.3 375.2 L605.1 375.0 L606.3 374.9 L607.1 375.1 L608.2 374.8 L609.2 374.7 L610.0 374.3 L610.8 373.7 L612.0 373.8 L613.1 374.1 L614.1 374.2 L614.9 373.8 L615.7 373.5 L616.6 373.7 L617.4 374.2 L618.5 374.3 L619.7 374.4 L620.6 374.7 L621.8 375.0 L622.9 375.3 L624.2 375.4 L625.4 375.5 L626.4 375.4 L627.5 375.8 L628.6 376.2 L629.6 376.4 L630.8 376.3 L631.9 376.2 L632.9 376.4 L634.0 376.5 L635.2 376.6 L636.2 376.9 L637.3 376.7 L638.4 376.9 L639.4 376.7 L640.6 376.9 L641.7 376.7 L642.7 376.9 L643.8 376.8 L645.0 377.0 L646.0 376.9 L647.1 377.1 L648.2 377.2 L649.2 377.2 L650.4 377.2 L651.5 377.4 L652.5 377.3 L653.6 377.7 L654.8 377.5 L655.8 377.8 L656.9 378.0 L658.0 377.9 L659.0 377.9 L660.2 377.7 L661.3 377.7 L662.3 377.8 L663.4 377.9 L664.6 378.1 L665.6 377.9 L666.7 377.7 L667.8 377.5 L668.8 377.4 L670.0 377.3 L671.1 377.4 L672.1 377.4 L673.2 377.5 L674.4 377.4 L675.4 377.3 L676.5 377.4 L677.7 377.5 L678.6 377.5 L679.8 377.7 L680.9 377.8 L681.9 378.0 L683.0 377.9 L684.2 378.0 L685.2 378.1 L686.3 378.1 L687.5 378.0 L688.4 378.1 L689.6 378.1 L690.7 378.2 L691.7 378.2 L692.8 378.3 L694.0 378.4 L695.0 378.4 L696.1 378.5 L697.3 378.5 L698.2 378.6 L699.4 378.6 L700.5 378.6 L701.5 378.6 L702.6 378.6 L703.8 378.6 L704.8 378.6 L705.9 378.6 L707.1 378.7 L708.0 378.6 L709.2 378.6 L710.0 378.5 L710.8 378.3 L711.6 378.4 L712.4 378.6 L713.3 378.5 L714.1 378.3 L715.2 378.4 L716.2 378.4 L717.5 378.8 L718.5 378.7 L719.6 378.6 L720.8 378.9 L721.8 379.1 L722.9 379.0 L724.0 379.2 L725.0 378.9 L726.2 378.9 L727.3 379.1 L728.3 379.2 L729.4 378.8 L730.6 378.5 L731.6 378.6 L732.7 378.2 L733.8 378.2 L734.8 378.1 L736.0 378.2 L737.1 378.1 L738.1 378.1 L739.2 378.1 L740.4 378.0 L741.4 378.1 L742.5 377.9 L743.6 377.9 L744.6 378.1 L745.8 378.1 L746.9 378.0 L747.9 377.9 L749.0 378.0 L750.2 378.1 L751.2 378.0 L752.3 377.9 L753.4 377.9 L754.4 378.1 L755.6 378.2 L756.7 378.3 L757.7 378.2 L758.8 378.3 L760.0 378.6 L761.0 378.7 L762.1 378.5 L763.2 378.8 L764.2 378.9 L765.4 379.1 L766.5 379.2 L767.5 379.3 L768.6 379.5 L769.8 379.7 L770.8 379.6 L771.9 379.8 L773.1 379.8 L774.0 380.0 L775.2 380.1 L776.3 380.2 L777.3 380.3 L778.4 380.3 L779.6 380.2 L780.6 380.0 L781.7 379.5 L782.9 379.3 L783.8 379.4 L785.0 379.2 L786.1 379.3 L787.1 379.4 L788.2 379.1 L789.4 378.8 L790.4 378.6 L791.5 378.6 L792.7 378.5 L793.6 378.5 L794.8 378.6 L795.9 378.7 L796.9 378.8 L798.0 378.8 L799.2 378.9 L800.2 379.0 L801.3 378.8 L802.5 378.8 L803.4 378.8 L804.6 378.8 L805.7 378.8 L806.7 378.8 L807.8 378.5 L809.0 378.2 L810.0 378.0 L811.1 377.9 L812.3 377.7 L813.2 377.7 L814.4 377.9 L815.5 378.0 L816.5 378.1 L817.6 377.9 L818.8 378.0 L819.8 378.2 L820.9 378.5 L822.1 378.6 L823.0 378.8 L824.2 378.8 L825.7 378.6 L826.5 378.5 L827.3 378.4 L828.1 378.2 L828.9 378.4 L829.7 378.6 L830.6 378.5 L831.4 378.6 L832.2 378.5 L833.0 378.6 L833.8 378.5 L834.6 378.4 L835.5 378.3 L836.3 378.2 L837.1 378.3 L837.9 378.4 L838.7 378.6 L839.5 378.9 L840.4 379.2 L841.2 379.5 L842.0 379.4 L842.8 379.3 L843.6 379.3 L844.4 379.2 L845.3 379.1 L846.1 379.2 L846.9 379.3 L847.7 379.5 L848.5 379.7 L849.3 379.9 L850.2 379.9 L851.0 379.7 L851.8 379.5 L852.6 379.3 L853.4 379.2 L854.2 379.4 L855.1 379.7 L855.9 380.0 L856.7 380.3 L857.5 380.4 L858.3 380.5 L859.1 380.6 L860.0 380.5 L860.8 380.6 L861.6 380.6 L862.4 380.7 L863.2 380.8 L864.0 381.0 L864.9 381.0 L865.7 381.0 L866.5 381.0 L867.3 380.7 L868.1 380.6 L868.9 380.4 L869.8 380.2 L870.6 380.1 L871.4 379.9 L872.2 379.7 L873.0 379.5 L873.8 379.3 L874.7 379.1 L875.5 379.0 L876.3 378.9 L877.1 378.9 L877.9 378.8 L878.7 378.6 L879.6 378.5 L880.4 378.6 L881.2 378.6 L882.0 378.5 L882.8 378.6 L883.6 378.6 L884.5 378.7 L885.3 378.8 L886.1 378.9 L886.9 379.1 L887.7 379.2 L888.5 379.2 L889.4 379.2 L890.2 379.1 L891.0 379.1 L891.8 379.2 L892.6 379.1 L893.4 379.1 L894.3 379.0 L895.1 379.1 L895.9 379.2 L896.7 379.3 L897.5 379.2 L898.3 379.2 L899.2 379.2 L900.0 379.3 L900.8 379.4 L901.6 379.3 L902.4 379.4 L903.2 379.3 L904.1 379.4 L904.9 379.5 L905.7 379.4 L906.5 379.3 L907.3 379.2 L908.1 379.2 L909.0 379.1 L909.8 379.1 L910.6 379.1 L911.4 379.2 L912.2 379.2 L913.0 379.3 L913.9 379.3 L914.7 379.4 L915.5 379.3 L916.3 379.5 L917.1 379.5 L917.9 379.6 L918.8 379.5 L919.6 379.5 L920.4 379.4 L921.2 379.3 L922.0 379.3 L922.8 379.3 L923.7 379.2 L924.5 379.2 L925.3 379.2 L926.1 379.1 L926.9 379.1 L927.7 379.0 L928.6 378.9 L929.4 378.9 L930.2 378.8 L931.0 378.7 L931.8 378.6 L932.6 378.6 L933.5 378.7 L934.3 378.6 L935.1 378.5 L935.9 378.6 L936.7 378.5 L937.6 378.5 L938.4 378.5 L939.2 378.6 L940.0 378.6 L940.8 378.7 L941.6 378.8 L942.5 378.7 L943.3 378.6 L944.1 378.7 L944.9 378.9 L945.7 379.1 L946.5 379.2 L947.4 379.3 L948.2 379.4 L949.0 379.5 L949.8 379.5 L950.6 379.4 L951.4 379.3 L952.3 379.3 L953.1 379.3 L953.9 379.2 L954.7 379.2 L955.5 379.2 L956.3 379.1 L957.2 378.9 L958.0 378.8 L958.8 378.7 L959.6 378.6 L960.4 378.5 L961.2 378.5 L962.1 378.6 L962.9 378.6 L963.7 378.7 L964.5 378.7 L965.3 378.6 L966.1 378.7 L967.0 378.8 L967.8 378.8 L968.6 378.9 L969.4 378.9 L970.2 379.0 L971.0 378.9 L971.9 378.9 L972.7 378.8 L973.5 378.7 L974.3 378.6 L975.1 378.5 L975.9 378.4 L976.8 378.5 L977.6 378.5 L978.4 378.5 L979.2 378.5 L980.0 378.5 L980.8 378.4 L982.4 378.7 L983.2 379.2 L984.0 379.7 L984.9 380.1 L985.7 380.1 L986.5 380.0 L987.3 379.6 L988.1 379.5 L988.9 379.4 L989.7 379.5 L990.6 379.5 L991.4 379.5 L992.2 379.6 L993.0 379.7 L993.8 379.8 L994.6 380.0 L996.0 377.2 L996.8 376.3 L1001.5 377.1 L1005.0 376.8 L1005.0 381.5 L199.5 381.5 Z" fill="#7b97c5" fill-opacity="0.88"/>
<path d="M199.5 378.0 L204.0 379.0 L214.0 380.0 L226.5 379.5 L239.0 381.2 L251.5 380.5 L264.0 381.2 L276.5 379.5 L289.0 380.5 L301.5 380.0 L310.2 377.0 L314.0 376.2 L319.8 377.0 L325.0 376.2 L335.0 374.5 L342.5 373.2 L355.0 373.0 L363.8 373.8 L372.5 375.5 L380.0 377.5 L385.0 378.0 L389.0 377.0 L390.0 377.8 L390.8 377.3 L391.6 377.5 L392.4 377.2 L393.6 377.2 L394.9 377.2 L396.2 377.3 L397.0 376.7 L397.8 376.0 L398.6 375.6 L399.5 375.0 L400.6 375.0 L401.4 374.5 L402.6 374.1 L403.5 373.5 L404.7 372.8 L405.5 371.9 L406.3 371.0 L407.3 369.8 L408.5 368.0 L409.7 367.1 L410.7 366.5 L411.6 366.1 L412.4 365.6 L413.4 365.2 L414.4 365.0 L415.6 364.9 L416.9 365.4 L417.7 365.6 L418.6 366.7 L419.6 367.9 L420.8 368.9 L422.0 370.0 L423.0 371.1 L424.3 371.6 L425.6 371.8 L426.7 372.1 L427.9 372.3 L428.9 372.3 L429.7 372.6 L430.5 372.3 L432.1 372.2 L433.3 371.9 L434.6 371.8 L435.7 371.9 L436.9 372.2 L437.8 372.7 L439.0 372.9 L440.3 372.9 L441.4 372.8 L442.6 372.6 L443.6 372.5 L444.7 372.1 L445.5 372.7 L446.8 372.8 L448.0 372.9 L449.1 373.2 L450.1 372.9 L451.2 372.7 L452.4 372.3 L453.4 372.7 L454.5 372.3 L455.6 372.0 L457.0 371.6 L458.3 371.1 L459.4 370.8 L460.6 370.0 L461.9 369.3 L463.5 369.3 L464.5 369.1 L465.9 368.3 L467.1 368.1 L468.4 368.2 L469.5 368.1 L470.8 367.9 L472.0 367.4 L473.3 367.1 L474.4 366.6 L475.7 365.6 L476.9 364.5 L478.2 364.4 L479.3 363.4 L480.3 362.9 L481.5 362.6 L482.3 362.0 L483.1 363.1 L483.9 364.1 L484.7 364.6 L485.9 364.2 L487.2 364.1 L488.3 364.0 L489.3 364.6 L490.4 365.6 L491.6 366.8 L492.9 367.7 L493.7 368.1 L494.5 367.9 L495.7 366.6 L496.5 365.3 L497.5 364.8 L498.3 364.5 L499.1 365.4 L499.9 366.3 L501.1 367.5 L502.2 368.4 L503.5 368.5 L504.7 369.1 L505.5 369.2 L506.3 369.1 L507.3 369.3 L508.1 369.8 L508.9 370.7 L510.4 372.3 L511.7 373.4 L512.5 374.2 L513.3 374.8 L514.1 375.2 L514.9 375.2 L515.8 375.4 L516.6 375.2 L517.4 375.5 L518.2 376.0 L519.0 376.6 L520.2 377.1 L521.5 377.3 L522.6 377.5 L523.9 377.0 L525.1 376.3 L526.1 375.6 L527.2 374.8 L528.0 374.4 L529.2 374.5 L530.1 374.3 L531.3 374.2 L532.4 374.1 L533.7 374.1 L534.9 374.2 L536.2 374.1 L537.3 374.4 L538.3 374.9 L539.5 374.7 L540.3 375.1 L541.1 375.2 L541.9 375.0 L543.2 375.2 L544.4 375.4 L545.5 375.6 L546.8 375.8 L547.9 375.9 L548.8 376.0 L549.9 375.7 L550.7 375.4 L551.5 375.6 L552.4 375.4 L553.2 375.7 L554.3 375.9 L555.6 376.0 L556.8 376.2 L558.1 376.0 L559.2 376.1 L560.2 375.9 L561.0 375.8 L562.2 376.2 L563.3 376.4 L564.6 376.6 L565.8 376.7 L567.1 376.7 L568.2 376.4 L569.2 376.0 L570.0 375.9 L571.1 376.1 L572.3 375.9 L573.3 375.8 L574.4 375.7 L575.6 375.5 L576.5 375.6 L577.7 375.6 L578.8 375.5 L580.1 375.6 L581.3 375.5 L582.3 375.5 L583.4 375.3 L584.5 375.4 L585.5 375.2 L586.7 375.3 L587.8 375.2 L588.8 375.2 L589.9 375.2 L591.1 375.1 L592.4 375.2 L593.5 375.2 L594.8 375.3 L596.0 375.3 L597.0 375.4 L598.1 375.3 L598.9 375.8 L600.1 375.6 L601.0 375.5 L602.2 375.5 L603.3 375.4 L604.3 375.2 L605.1 375.0 L606.3 374.9 L607.1 375.1 L608.2 374.8 L609.2 374.7 L610.0 374.3 L610.8 373.7 L612.0 373.8 L613.1 374.1 L614.1 374.2 L614.9 373.8 L615.7 373.5 L616.6 373.7 L617.4 374.2 L618.5 374.3 L619.7 374.4 L620.6 374.7 L621.8 375.0 L622.9 375.3 L624.2 375.4 L625.4 375.5 L626.4 375.4 L627.5 375.8 L628.6 376.2 L629.6 376.4 L630.8 376.3 L631.9 376.2 L632.9 376.4 L634.0 376.5 L635.2 376.6 L636.2 376.9 L637.3 376.7 L638.4 376.9 L639.4 376.7 L640.6 376.9 L641.7 376.7 L642.7 376.9 L643.8 376.8 L645.0 377.0 L646.0 376.9 L647.1 377.1 L648.2 377.2 L649.2 377.2 L650.4 377.2 L651.5 377.4 L652.5 377.3 L653.6 377.7 L654.8 377.5 L655.8 377.8 L656.9 378.0 L658.0 377.9 L659.0 377.9 L660.2 377.7 L661.3 377.7 L662.3 377.8 L663.4 377.9 L664.6 378.1 L665.6 377.9 L666.7 377.7 L667.8 377.5 L668.8 377.4 L670.0 377.3 L671.1 377.4 L672.1 377.4 L673.2 377.5 L674.4 377.4 L675.4 377.3 L676.5 377.4 L677.7 377.5 L678.6 377.5 L679.8 377.7 L680.9 377.8 L681.9 378.0 L683.0 377.9 L684.2 378.0 L685.2 378.1 L686.3 378.1 L687.5 378.0 L688.4 378.1 L689.6 378.1 L690.7 378.2 L691.7 378.2 L692.8 378.3 L694.0 378.4 L695.0 378.4 L696.1 378.5 L697.3 378.5 L698.2 378.6 L699.4 378.6 L700.5 378.6 L701.5 378.6 L702.6 378.6 L703.8 378.6 L704.8 378.6 L705.9 378.6 L707.1 378.7 L708.0 378.6 L709.2 378.6 L710.0 378.5 L710.8 378.3 L711.6 378.4 L712.4 378.6 L713.3 378.5 L714.1 378.3 L715.2 378.4 L716.2 378.4 L717.5 378.8 L718.5 378.7 L719.6 378.6 L720.8 378.9 L721.8 379.1 L722.9 379.0 L724.0 379.2 L725.0 378.9 L726.2 378.9 L727.3 379.1 L728.3 379.2 L729.4 378.8 L730.6 378.5 L731.6 378.6 L732.7 378.2 L733.8 378.2 L734.8 378.1 L736.0 378.2 L737.1 378.1 L738.1 378.1 L739.2 378.1 L740.4 378.0 L741.4 378.1 L742.5 377.9 L743.6 377.9 L744.6 378.1 L745.8 378.1 L746.9 378.0 L747.9 377.9 L749.0 378.0 L750.2 378.1 L751.2 378.0 L752.3 377.9 L753.4 377.9 L754.4 378.1 L755.6 378.2 L756.7 378.3 L757.7 378.2 L758.8 378.3 L760.0 378.6 L761.0 378.7 L762.1 378.5 L763.2 378.8 L764.2 378.9 L765.4 379.1 L766.5 379.2 L767.5 379.3 L768.6 379.5 L769.8 379.7 L770.8 379.6 L771.9 379.8 L773.1 379.8 L774.0 380.0 L775.2 380.1 L776.3 380.2 L777.3 380.3 L778.4 380.3 L779.6 380.2 L780.6 380.0 L781.7 379.5 L782.9 379.3 L783.8 379.4 L785.0 379.2 L786.1 379.3 L787.1 379.4 L788.2 379.1 L789.4 378.8 L790.4 378.6 L791.5 378.6 L792.7 378.5 L793.6 378.5 L794.8 378.6 L795.9 378.7 L796.9 378.8 L798.0 378.8 L799.2 378.9 L800.2 379.0 L801.3 378.8 L802.5 378.8 L803.4 378.8 L804.6 378.8 L805.7 378.8 L806.7 378.8 L807.8 378.5 L809.0 378.2 L810.0 378.0 L811.1 377.9 L812.3 377.7 L813.2 377.7 L814.4 377.9 L815.5 378.0 L816.5 378.1 L817.6 377.9 L818.8 378.0 L819.8 378.2 L820.9 378.5 L822.1 378.6 L823.0 378.8 L824.2 378.8 L825.7 378.6 L826.5 378.5 L827.3 378.4 L828.1 378.2 L828.9 378.4 L829.7 378.6 L830.6 378.5 L831.4 378.6 L832.2 378.5 L833.0 378.6 L833.8 378.5 L834.6 378.4 L835.5 378.3 L836.3 378.2 L837.1 378.3 L837.9 378.4 L838.7 378.6 L839.5 378.9 L840.4 379.2 L841.2 379.5 L842.0 379.4 L842.8 379.3 L843.6 379.3 L844.4 379.2 L845.3 379.1 L846.1 379.2 L846.9 379.3 L847.7 379.5 L848.5 379.7 L849.3 379.9 L850.2 379.9 L851.0 379.7 L851.8 379.5 L852.6 379.3 L853.4 379.2 L854.2 379.4 L855.1 379.7 L855.9 380.0 L856.7 380.3 L857.5 380.4 L858.3 380.5 L859.1 380.6 L860.0 380.5 L860.8 380.6 L861.6 380.6 L862.4 380.7 L863.2 380.8 L864.0 381.0 L864.9 381.0 L865.7 381.0 L866.5 381.0 L867.3 380.7 L868.1 380.6 L868.9 380.4 L869.8 380.2 L870.6 380.1 L871.4 379.9 L872.2 379.7 L873.0 379.5 L873.8 379.3 L874.7 379.1 L875.5 379.0 L876.3 378.9 L877.1 378.9 L877.9 378.8 L878.7 378.6 L879.6 378.5 L880.4 378.6 L881.2 378.6 L882.0 378.5 L882.8 378.6 L883.6 378.6 L884.5 378.7 L885.3 378.8 L886.1 378.9 L886.9 379.1 L887.7 379.2 L888.5 379.2 L889.4 379.2 L890.2 379.1 L891.0 379.1 L891.8 379.2 L892.6 379.1 L893.4 379.1 L894.3 379.0 L895.1 379.1 L895.9 379.2 L896.7 379.3 L897.5 379.2 L898.3 379.2 L899.2 379.2 L900.0 379.3 L900.8 379.4 L901.6 379.3 L902.4 379.4 L903.2 379.3 L904.1 379.4 L904.9 379.5 L905.7 379.4 L906.5 379.3 L907.3 379.2 L908.1 379.2 L909.0 379.1 L909.8 379.1 L910.6 379.1 L911.4 379.2 L912.2 379.2 L913.0 379.3 L913.9 379.3 L914.7 379.4 L915.5 379.3 L916.3 379.5 L917.1 379.5 L917.9 379.6 L918.8 379.5 L919.6 379.5 L920.4 379.4 L921.2 379.3 L922.0 379.3 L922.8 379.3 L923.7 379.2 L924.5 379.2 L925.3 379.2 L926.1 379.1 L926.9 379.1 L927.7 379.0 L928.6 378.9 L929.4 378.9 L930.2 378.8 L931.0 378.7 L931.8 378.6 L932.6 378.6 L933.5 378.7 L934.3 378.6 L935.1 378.5 L935.9 378.6 L936.7 378.5 L937.6 378.5 L938.4 378.5 L939.2 378.6 L940.0 378.6 L940.8 378.7 L941.6 378.8 L942.5 378.7 L943.3 378.6 L944.1 378.7 L944.9 378.9 L945.7 379.1 L946.5 379.2 L947.4 379.3 L948.2 379.4 L949.0 379.5 L949.8 379.5 L950.6 379.4 L951.4 379.3 L952.3 379.3 L953.1 379.3 L953.9 379.2 L954.7 379.2 L955.5 379.2 L956.3 379.1 L957.2 378.9 L958.0 378.8 L958.8 378.7 L959.6 378.6 L960.4 378.5 L961.2 378.5 L962.1 378.6 L962.9 378.6 L963.7 378.7 L964.5 378.7 L965.3 378.6 L966.1 378.7 L967.0 378.8 L967.8 378.8 L968.6 378.9 L969.4 378.9 L970.2 379.0 L971.0 378.9 L971.9 378.9 L972.7 378.8 L973.5 378.7 L974.3 378.6 L975.1 378.5 L975.9 378.4 L976.8 378.5 L977.6 378.5 L978.4 378.5 L979.2 378.5 L980.0 378.5 L980.8 378.4 L982.4 378.7 L983.2 379.2 L984.0 379.7 L984.9 380.1 L985.7 380.1 L986.5 380.0 L987.3 379.6 L988.1 379.5 L988.9 379.4 L989.7 379.5 L990.6 379.5 L991.4 379.5 L992.2 379.6 L993.0 379.7 L993.8 379.8 L994.6 380.0 L996.0 377.2 L996.8 376.3 L1001.5 377.1 L1005.0 376.8" fill="none" stroke="#6d89bd" stroke-width="1"/>
<rect x="389.0" y="360.0" width="609.3" height="21.5" fill="#6685c2" fill-opacity="0.32"/>
<rect x="385.0" y="364.3" width="7" height="13.4" fill="#f7f7f7" stroke="#9a9a9a" stroke-width="0.8" rx="0.5"/><path d="M387.5 367.5v7M389.5 367.5v7" stroke="#8a8a8a" stroke-width="0.8"/><rect x="994.8" y="364.3" width="7" height="13.4" fill="#f7f7f7" stroke="#9a9a9a" stroke-width="0.8" rx="0.5"/><path d="M997.3 367.5v7M999.3 367.5v7" stroke="#8a8a8a" stroke-width="0.8"/>

<!-- footer -->
<text x="27.2" y="406.6" font-size="10.5" font-style="italic" fill="#5e6ea5" textLength="186.5" lengthAdjust="spacingAndGlyphs">Shaded areas indicate U.S. recessions.</text>
<text x="428" y="406.8" font-size="10.5" fill="#55595f" textLength="186" lengthAdjust="spacingAndGlyphs">Source: U.S. Bureau of Labor Statistics</text>
<text x="851" y="406.8" font-size="10.5" fill="#55595f" textLength="89" lengthAdjust="spacingAndGlyphs">fred.stlouisfed.org</text>
<path d="M992.4 408V405.1H995.3M998.3 405.1H1001.2V408M1001.2 410.9V413.8H998.3M995.3 413.8H992.4V410.9" fill="none" stroke="#1f2830" stroke-width="2.1"/>
</svg>
</body></html>
